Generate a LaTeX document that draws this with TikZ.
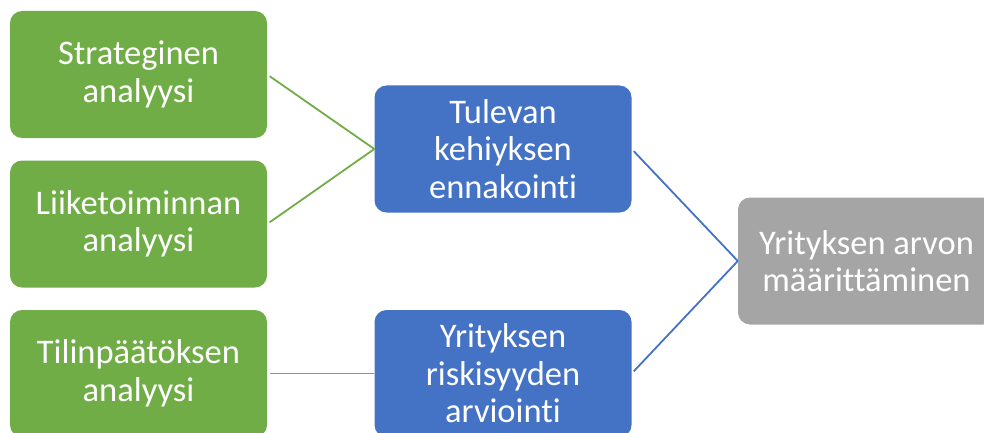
\documentclass[tikz,border=0pt]{standalone}
\usepackage{fontspec}
\setmainfont{Carlito}[Ligatures={NoCommon}]
\definecolor{cgreen}{HTML}{70AD47}
\definecolor{cblue}{HTML}{4472C4}
\definecolor{cgray}{HTML}{A5A5A5}
\tikzset{
  box/.style={rounded corners=12pt, minimum width=257pt, minimum height=127pt, inner sep=0pt,
    text=white, align=center, font=\fontsize{34.5}{37.5}\selectfont},
  gbox/.style={box, fill=cgreen},
  bbox/.style={box, fill=cblue},
  ybox/.style={box, fill=cgray},
  gline/.style={draw=cgreen, line width=1.8pt, shorten <=3pt},
  bline/.style={draw=cblue, line width=1.8pt, shorten <=3pt},
}
\begin{document}
\begin{tikzpicture}[x=1pt,y=1pt]
\useasboundingbox (0,0) rectangle (984,432);
\clip (0,0) rectangle (984,432);
\node[gbox] (s1) at (138.5,357.5) {Strateginen\\analyysi};
\node[gbox] (s2) at (138.5,208) {Liiketoiminnan\\analyysi};
\node[gbox] (s3) at (138.5,58.5) {Tilinpäätöksen\\analyysi};
\node[bbox] (b1) at (503,283) {Tulevan\\kehiyksen\\ennakointi};
\node[bbox] (b2) at (503,58.5) {Yrityksen\\riskisyyden\\arviointi};
\node[ybox] (g) at (866.5,171) {Yrityksen arvon\\määrittäminen};
\draw[gline] (s1.east) -- (b1.west);
\draw[gline] (s2.east) -- (b1.west);
\draw[gline] (s3.east) -- (b2.west);
\draw[bline] (b1.east) -- (g.west);
\draw[bline] (b2.east) -- (g.west);
\end{tikzpicture}
\end{document}
